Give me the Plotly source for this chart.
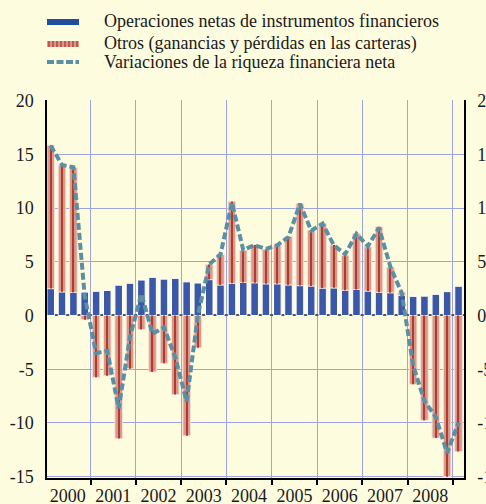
import plotly.graph_objects as go

# ---------------- data ----------------
quarters = [f"{y}-Q{q}" for y in range(2000, 2009) for q in range(1, 5)] + ["2009-Q1"]

operaciones = [2.50, 2.20, 2.15, 2.17,
               2.25, 2.33, 2.82, 3.00,
               3.30, 3.55, 3.38, 3.45,
               3.13, 3.02, 3.34, 2.85,
               3.00, 3.08, 3.05, 2.95,
               2.95, 2.85, 2.78, 2.75,
               2.55, 2.57, 2.36, 2.42,
               2.28, 2.17, 2.12, 1.88,
               1.78, 1.80, 1.97, 2.22,
               2.72]

otros = [13.35, 11.77, 11.60, -0.40,
         -5.75, -5.60, -11.45, -4.95,
         -1.30, -5.25, -4.45, -7.35,
         -11.20, -3.00, 1.41, 2.84,
         7.60, 2.98, 3.51, 3.21,
         3.61, 4.49, 7.62, 5.19,
         6.01, 3.99, 3.24, 5.21,
         4.10, 6.08, 2.38, 0.28,
         -6.40, -9.75, -11.40, -15.00,
         -12.65]

riqueza = [15.80, 14.00, 13.80, 1.80,
           -3.50, -3.30, -8.65, -2.00,
           2.00, -1.70, -1.10, -3.90,
           -8.00, 0.00, 4.75, 5.70,
           10.50, 6.10, 6.55, 6.20,
           6.55, 7.30, 10.40, 7.90,
           8.55, 6.55, 5.70, 7.60,
           6.45, 8.15, 4.50, 2.10,
           -4.65, -7.95, -9.45, -12.80,
           -9.95]

series_names = ["Operaciones netas de instrumentos financieros",
                "Otros (ganancias y pérdidas en las carteras)",
                "Variaciones de la riqueza financiera neta"]

y_tick_vals = [-15, -10, -5, 0, 5, 10, 15, 20]
y_tick_text = ["-15", "-10", "-5", "0", "5", "10", "15", "20"]

# ---------------- helpers ----------------
mid = {"Q1": "02-15", "Q2": "05-16", "Q3": "08-16", "Q4": "11-15"}
dates = [f"{q[:4]}-{mid[q[5:]]}" for q in quarters]
base_otros = [b if o >= 0 else 0 for b, o in zip(operaciones, otros)]

DAY = 86400000
BG = "#fefcdf"
GRID = "#9ea4de"
FONT = "Liberation Serif, Tinos, Times New Roman, DejaVu Serif, serif"
TXT = "#1a1a1a"

W, H = 486, 504
ML, MR, MT, MB = 47, 22, 100, 26
PW, PH = W - ML - MR, H - MT - MB


def px_x(x):
    return (x - ML) / PW


def px_y(y):
    return (H - MB - y) / PH


fig = go.Figure()
fig.add_bar(x=dates, y=operaciones, base=0, width=61 * DAY,
            marker=dict(color="#3a57a8", line=dict(color="white", width=1)),
            showlegend=False, name=series_names[0])
fig.add_bar(x=dates, y=otros, base=base_otros, width=61 * DAY,
            marker=dict(color="#d6998a", line=dict(color="#f6e0d6", width=1)),
            showlegend=False, name=series_names[1])
fig.add_bar(x=dates, y=otros, base=base_otros, width=10 * DAY,
            marker=dict(color="#b23a30", line=dict(width=0)),
            showlegend=False, hoverinfo="skip")
fig.add_scatter(x=dates, y=riqueza, mode="lines",
                line=dict(color="#5b8fa3", width=4, dash="7px,3px"),
                showlegend=False, name=series_names[2])

# right axis (duplicate scale)
fig.add_scatter(x=[dates[0]], y=[None], yaxis="y2", showlegend=False, hoverinfo="skip")

# ---------------- manual legend ----------------
shapes = []
annotations = []
sx0, sx1 = 47, 79
rows_y = [22, 44, 62]
shapes.append(dict(type="rect", xref="paper", yref="paper",
                   x0=px_x(sx0), x1=px_x(sx1), y0=px_y(rows_y[0] - 3), y1=px_y(rows_y[0] + 3),
                   fillcolor="#1f4e9f", line=dict(width=0)))
shapes.append(dict(type="rect", xref="paper", yref="paper",
                   x0=px_x(sx0), x1=px_x(sx1), y0=px_y(rows_y[1] - 3), y1=px_y(rows_y[1] + 3),
                   fillcolor="#d7998b", line=dict(width=0)))
for k in range(8):
    xx = sx0 + 2 + 4 * k
    shapes.append(dict(type="line", xref="paper", yref="paper",
                       x0=px_x(xx), x1=px_x(xx), y0=px_y(rows_y[1] - 3), y1=px_y(rows_y[1] + 3),
                       line=dict(color="#b3463b", width=1.5)))
shapes.append(dict(type="line", xref="paper", yref="paper",
                   x0=px_x(sx0), x1=px_x(sx1), y0=px_y(rows_y[2]), y1=px_y(rows_y[2]),
                   line=dict(color="#5b8fa3", width=4, dash="7px,2.5px")))
for name, ry in zip(series_names, [21, 43, 62]):
    annotations.append(dict(text=name, xref="paper", yref="paper",
                            x=px_x(102), y=px_y(ry), xanchor="left", yanchor="middle",
                            showarrow=False, font=dict(family=FONT, size=18, color=TXT)))

fig.update_layout(
    width=W, height=H, autosize=False,
    margin=dict(l=ML, r=MR, t=MT, b=MB, autoexpand=False),
    paper_bgcolor=BG, plot_bgcolor=BG,
    barmode="overlay", showlegend=False,
    shapes=shapes, annotations=annotations,
    font=dict(family=FONT, size=18, color=TXT),
    xaxis=dict(type="date", range=["2000-01-16", "2009-03-31"],
               tick0="2000-01-01", dtick="M12", ticklabelmode="period", tickformat="%Y",
               showgrid=True, gridcolor=GRID, gridwidth=1,
               ticks="outside", ticklen=5, tickcolor="black", tickwidth=1.5,
               ticklabelstandoff=-4,
               showline=True, linecolor="black", linewidth=1.5, automargin=False,
               tickfont=dict(family=FONT, size=18, color=TXT)),
    yaxis=dict(range=[-15.12, 20.05], tickvals=y_tick_vals, ticktext=y_tick_text,
               showgrid=True, gridcolor=GRID, gridwidth=1,
               zeroline=True, zerolinecolor="#555555", zerolinewidth=1.5,
               showline=True, linecolor="black", linewidth=1.5,
               ticks="", ticklabelstandoff=8, automargin=False,
               tickfont=dict(family=FONT, size=18, color=TXT)),
    yaxis2=dict(range=[-15.12, 20.05], tickvals=y_tick_vals, ticktext=y_tick_text,
                overlaying="y", side="right", showgrid=False, zeroline=False,
                showline=True, linecolor="black", linewidth=1.5,
                ticks="", ticklabelstandoff=8, automargin=False,
                tickfont=dict(family=FONT, size=18, color=TXT)),
)

fig.write_html("out.html", config={"displayModeBar": False},
               post_script="document.body.style.margin='0';document.body.style.padding='0';")
